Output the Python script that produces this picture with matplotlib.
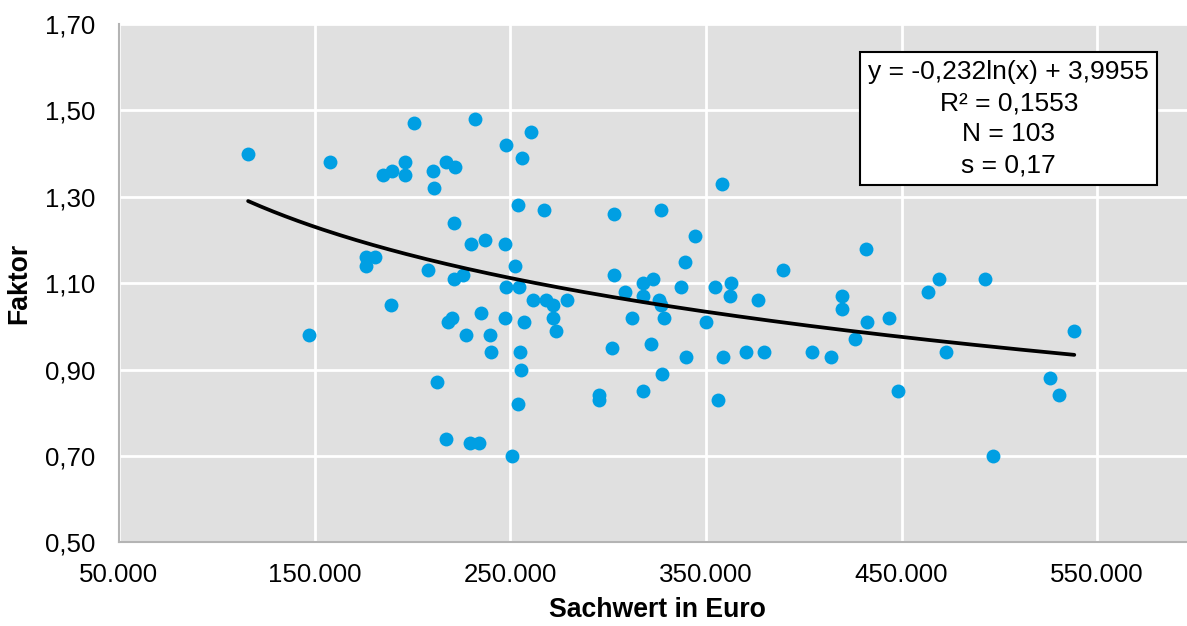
import matplotlib
matplotlib.use("Agg")
import matplotlib.pyplot as plt
import numpy as np

plt.rcParams["font.family"] = ["Liberation Sans", "DejaVu Sans"]

# Sachwert (Euro) und Faktor
sachwert = [
    116000, 147000, 158000, 176000, 176500, 181000, 184700, 189000, 189300, 196000,
    196000, 201000, 207700, 210700, 211200, 212800, 217000, 217000, 218300, 220400,
    221000, 221400, 222000, 226000, 227600, 229600, 230000, 232000, 234200, 235000,
    237000, 239800, 240300, 247400, 248000, 247400, 248000, 251000, 252600, 254100,
    254100, 254600, 255100, 255600, 256100, 257100, 260700, 261700, 267300, 268400,
    272000, 272000, 273500, 279100, 295400, 295400, 302000, 303000, 303000, 308700,
    312200, 317900, 317900, 317900, 321900, 323000, 326000, 327000, 327000, 327500,
    328600, 337200, 339300, 339800, 344400, 350000, 354600, 356100, 358200, 358700,
    362300, 362800, 370400, 376500, 379600, 389300, 404000, 413800, 419400, 419400,
    426000, 431600, 432100, 443400, 448000, 463300, 468900, 472500, 492900, 497000,
    526000, 530600, 538300,
]
faktor = [
    1.40, 0.98, 1.38, 1.14, 1.16, 1.16, 1.35, 1.05, 1.36, 1.38,
    1.35, 1.47, 1.13, 1.36, 1.32, 0.87, 1.38, 0.74, 1.01, 1.02,
    1.24, 1.11, 1.37, 1.12, 0.98, 0.73, 1.19, 1.48, 0.73, 1.03,
    1.20, 0.98, 0.94, 1.02, 1.09, 1.19, 1.42, 0.70, 1.14, 0.82,
    1.28, 1.09, 0.94, 0.90, 1.39, 1.01, 1.45, 1.06, 1.27, 1.06,
    1.05, 1.02, 0.99, 1.06, 0.84, 0.83, 0.95, 1.26, 1.12, 1.08,
    1.02, 1.10, 0.85, 1.07, 0.96, 1.11, 1.06, 1.05, 1.27, 0.89,
    1.02, 1.09, 1.15, 0.93, 1.21, 1.01, 1.09, 0.83, 1.33, 0.93,
    1.07, 1.10, 0.94, 1.06, 0.94, 1.13, 0.94, 0.93, 1.07, 1.04,
    0.97, 1.18, 1.01, 1.02, 0.85, 1.08, 1.11, 0.94, 1.11, 0.70,
    0.88, 0.84, 0.99,
]

# logarithmischer Trend (Excel)
trend_a = -0.232
trend_b = 3.9955
stats_text = "y = -0,232ln(x) + 3,9955\nR² = 0,1553\nN = 103\ns = 0,17"

W, H = 1187, 626
fig = plt.figure(figsize=(W / 100, H / 100), dpi=100)
ax = fig.add_axes([119 / W, 1 - 542.3 / H, (1195 - 119) / W, (542.3 - 24) / H])
ax.set_facecolor("#e0e0e0")

ax.plot(sachwert, faktor, "o", color="#009fe3", markersize=10,
        markeredgewidth=0, zorder=3)

xs = np.linspace(min(sachwert), max(sachwert), 200)
ax.plot(xs, trend_a * np.log(xs) + trend_b, color="black", linewidth=2.7,
        zorder=4, solid_capstyle="round")

ax.set_xlim(50000, 600000)
ax.set_ylim(0.5, 1.7)
ax.set_xticks(np.arange(50000, 600001, 100000))
ax.set_yticks(np.arange(0.5, 1.71, 0.2))
ax.xaxis.set_major_formatter(plt.FuncFormatter(lambda v, p: f"{v:,.0f}".replace(",", ".")))
ax.yaxis.set_major_formatter(plt.FuncFormatter(lambda v, p: f"{v:.2f}".replace(".", ",")))
ax.tick_params(length=0, labelsize=18.6, colors="black")
ax.tick_params(axis="y", pad=17)
ax.tick_params(axis="x", pad=15)

ax.grid(True, color="white", linewidth=2)
ax.set_axisbelow(True)
for side in ["top", "right"]:
    ax.spines[side].set_visible(False)
for side in ["left", "bottom"]:
    ax.spines[side].set_color("#b4b4b4")
    ax.spines[side].set_linewidth(1.5)

ax.set_xlabel("Sachwert in Euro", fontsize=19.2, fontweight="bold", labelpad=7)
ax.set_ylabel("Faktor", fontsize=19.2, fontweight="bold", labelpad=9)

ax.text(0.8269, 0.8175, stats_text, transform=ax.transAxes, ha="center", va="center",
        fontsize=19, linespacing=1.37, zorder=6,
        bbox=dict(boxstyle="square,pad=0.3", facecolor="white", edgecolor="black",
                  linewidth=1.5))

fig.savefig("out.png", dpi=100)
